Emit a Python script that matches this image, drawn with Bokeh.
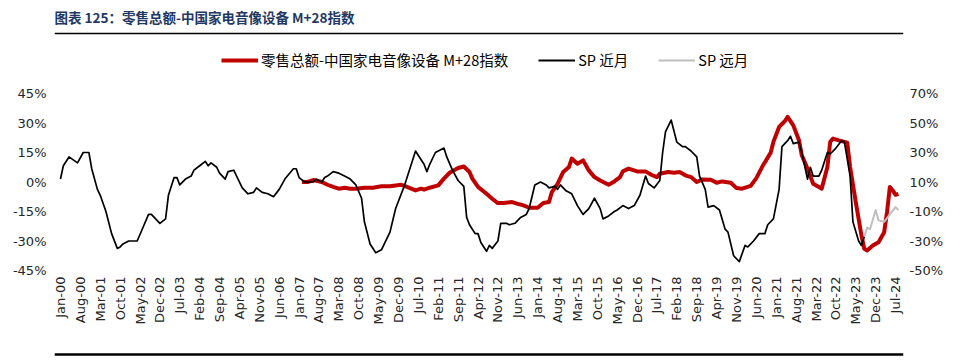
import math
from bokeh.plotting import figure
from bokeh.layouts import column
from bokeh.models import Range1d, LinearAxis, FixedTicker, Legend, LegendItem
from bokeh.core.properties import value
from bokeh.embed import file_html
from bokeh.resources import INLINE

# ---------------- data (x = months since Jan-2000) ----------------
title_text = "图表 125：零售总额-中国家电音像设备 M+28指数"
name_retail = "零售总额-中国家电音像设备 M+28指数"
name_near = "SP 近月"
name_far = "SP 远月"

x_tick_pos = list(range(0, 295, 7))
x_tick_labels = ["Jan-00", "Aug-00", "Mar-01", "Oct-01", "May-02", "Dec-02", "Jul-03",
                 "Feb-04", "Sep-04", "Apr-05", "Nov-05", "Jun-06", "Jan-07", "Aug-07",
                 "Mar-08", "Oct-08", "May-09", "Dec-09", "Jul-10", "Feb-11", "Sep-11",
                 "Apr-12", "Nov-12", "Jun-13", "Jan-14", "Aug-14", "Mar-15", "Oct-15",
                 "May-16", "Dec-16", "Jul-17", "Feb-18", "Sep-18", "Apr-19", "Nov-19",
                 "Jun-20", "Jan-21", "Aug-21", "Mar-22", "Oct-22", "May-23", "Dec-23",
                 "Jul-24"]
left_ticks = [-45, -30, -15, 0, 15, 30, 45]
right_ticks = [-50, -30, -10, 10, 30, 50, 70]

# retail index (left axis, %)
retail_month = [85, 87, 89, 92, 94, 96, 98, 100, 102, 104,
                107, 110, 113, 116, 120, 122, 125, 127, 128, 130,
                133, 135, 137, 140, 142, 144, 145, 147, 150, 152,
                154, 156, 159, 161, 163, 165, 168, 170, 172, 173,
                175, 177, 179, 180, 182, 184, 186, 188, 190, 193,
                195, 197, 198, 200, 203, 206, 208, 210, 211, 214,
                216, 218, 220, 222, 224, 226, 229, 231, 233, 236,
                238, 240, 243, 245, 247, 250, 251, 253, 255, 256,
                258, 260, 261, 263, 265, 267, 268, 270, 271, 272,
                274, 277, 278, 280, 282, 283, 284, 286, 288, 290,
                291, 292, 293, 294, 295]
retail_val = [0, 0, 1, 0, -1.4, -2.5, -3.4, -2.9, -3.4, -3.4,
              -2.9, -2.9, -2.2, -2.2, -1.4, -2.5, -4.3, -3.4, -3.9, -2.9,
              -1.7, 1.7, 4.7, 7.1, 7.9, 5.1, 1.7, -2.5, -6, -8.5,
              -10.7, -10.7, -10.2, -11.1, -11.9, -13.1, -13.1, -10.7, -10.2, -5.1,
              -0.9, 5.1, 7.6, 11.9, 9.3, 11, 5.9, 2.5, 0.8, -1.4,
              0.3, 2.5, 5.4, 6.8, 5.4, 5.4, 3.7, 2.5, 4.2, 5.1,
              4.7, 5.1, 3.4, 2.5, 0, 1.3, 1.2, -0.4, 0.3, -0.4,
              -3.1, -3.4, -2, 2, 7.6, 14.8, 20.4, 28, 30.9, 33.1,
              28.8, 21.2, 13.6, 6.8, -0.9, -2.5, -3.4, 7.6, 20.4, 22.1,
              21.2, 20, 7.6, -10.2, -27.2, -34, -34.8, -32.3, -30.6, -25.5,
              -15.3, -2.5, -4.3, -6.5, -6]

# SP near month (right axis, %)
near_month = [0, 1, 3, 6, 8, 10, 11, 13, 14, 16,
              18, 20, 21, 22, 24, 25, 27, 29, 31, 32,
              35, 37, 38, 40, 41, 42, 44, 46, 47, 49,
              51, 52, 53, 55, 56, 58, 59, 61, 62, 64,
              66, 68, 69, 71, 73, 75, 77, 79, 82, 83,
              84, 86, 89, 90, 92, 93, 94, 96, 98, 100,
              102, 104, 106, 107, 109, 111, 113, 116, 118, 121,
              123, 125, 126, 128, 129, 130, 132, 133, 135, 136,
              138, 140, 142, 143, 144, 146, 147, 148, 150, 151,
              152, 154, 155, 157, 158, 160, 162, 164, 165, 167,
              169, 171, 172, 174, 175, 176, 178, 180, 182, 184,
              186, 188, 190, 191, 193, 195, 196, 198, 200, 202,
              204, 206, 207, 209, 211, 212, 213, 215, 217, 219,
              220, 222, 224, 225, 227, 228, 230, 232, 234, 235,
              237, 239, 241, 242, 244, 246, 248, 249, 251, 253,
              254, 256, 257, 258, 260, 261, 263, 264, 265, 267,
              268, 269, 270, 271, 273, 275, 276, 278, 279, 281,
              282, 283]
near_val = [12, 21, 27, 23, 30, 30, 19, 5, 1, -10,
            -25, -35, -34, -32, -30, -30, -30, -21, -12, -12,
            -18, -15, 1, 13, 13, 8, 12, 14, 18, 21,
            24, 21, 23, 20, 16, 12, 17, 18, 14, 6,
            2, 3, 6, 3, 2, 0, 5, 12, 19, 19,
            13, 10, 10, 12, 10, 13, 14, 17, 16, 14,
            12, 8, -1, -17, -32, -38, -36, -24, -8, 7,
            19, 31, 28, 22, 17, 22, 30, 31, 33, 27,
            18, 11, 7, -14, -19, -25, -25, -31, -37, -33,
            -35, -30, -18, -18, -19, -18, -14, -12, -8, 8,
            10, 8, 6, 7, 5, 8, 4, 2, -6, -12,
            -8, -1, -8, -15, -13, -10, -9, -6, -8, -6,
            1, 14, 9, 6, 11, 30, 44, 52, 37, 34,
            34, 31, 27, 14, 5, -7, -6, -9, -22, -24,
            -40, -44, -33, -34, -30, -25, -25, -19, -15, 5,
            34, 38, 41, 36, 37, 30, 12, 20, 14, 14,
            18, 24, 30, 29, 33, 38, 37, 14, -17, -30,
            -33, -27]

# SP far month (right axis, %)
far_month = [283, 284, 285, 287, 288, 290, 292, 294, 295]
far_val = [-27, -21, -22, -9, -16, -17, -12, -7, -9]

# ---------------- styles ----------------
RED = "#C00000"
BLACK = "#000000"
GRAY = "#BFBFBF"
TITLE_COLOR = "#1F3864"
AX_FONT = "DejaVu Sans"
CJK = "Noto Sans CJK SC"
W = 946
HH = 78

# ---------------- header (title, rule, legend) ----------------
head = figure(width=W, height=HH, x_range=Range1d(0, W), y_range=Range1d(0, HH),
              x_axis_type=None, y_axis_type=None, output_backend="svg",
              toolbar_location=None, min_border=0, outline_line_color=None)
head.text(x=[0], y=[62], text=[title_text], text_font=value(CJK),
          text_font_style="bold", text_font_size="13.5px", text_color=TITLE_COLOR,
          text_baseline="middle", text_align="left")
head.line([0, W], [45, 45], line_color="black", line_width=1.3)
# legend sample renderers (kept outside the visible header range)
lr1 = head.line([-50, -40], [-50, -50], line_color=RED, line_width=4)
lr2 = head.line([-50, -40], [-50, -50], line_color=BLACK, line_width=2)
lr3 = head.line([-50, -40], [-50, -50], line_color=GRAY, line_width=2)
legend = Legend(items=[LegendItem(label=name_retail, renderers=[lr1]),
                       LegendItem(label=name_near, renderers=[lr2]),
                       LegendItem(label=name_far, renderers=[lr3])],
                location=(167, 8), orientation="horizontal",
                glyph_width=37, glyph_height=18, label_height=18,
                label_standoff=3, spacing=30, padding=0, margin=0,
                border_line_color=None, background_fill_alpha=0,
                label_text_font=CJK, label_text_font_size="14.5px",
                label_text_color="#000000")
head.add_layout(legend)

# ---------------- main chart ----------------
p = figure(width=W, height=264, x_range=Range1d(-2.107, 296.8), y_range=Range1d(-45, 45),
           output_backend="svg", toolbar_location=None,
           min_border_left=54, min_border_right=41, min_border_top=15, min_border_bottom=72,
           outline_line_color=None)
p.extra_y_ranges = {"right": Range1d(-50, 70)}
p.xgrid.visible = False
p.ygrid.visible = False

p.line(retail_month, retail_val, line_color=RED, line_width=4, line_join="round")
p.line(near_month, near_val, line_color=BLACK, line_width=1.7, line_join="round",
       y_range_name="right")
p.line(far_month, far_val, line_color=GRAY, line_width=2, line_join="round",
       y_range_name="right")

ax = p.xaxis[0]
ax.ticker = FixedTicker(ticks=x_tick_pos)
ax.major_label_overrides = {t: l for t, l in zip(x_tick_pos, x_tick_labels)}
ax.major_label_orientation = math.pi / 2
ax.major_label_standoff = 6

ly = p.yaxis[0]
ly.ticker = FixedTicker(ticks=left_ticks)
ly.major_label_overrides = {t: f"{t}%" for t in left_ticks}
ly.major_label_standoff = 8

ry = LinearAxis(y_range_name="right", ticker=FixedTicker(ticks=right_ticks))
ry.major_label_overrides = {t: f"{t}%" for t in right_ticks}
ry.major_label_standoff = 6
p.add_layout(ry, "right")

for a in [ax, ly, ry]:
    a.axis_line_color = None
    a.major_tick_line_color = None
    a.minor_tick_line_color = None
    a.major_tick_out = 0
    a.major_tick_in = 0
    a.minor_tick_out = 0
    a.minor_tick_in = 0
    a.major_label_text_font = AX_FONT
    a.major_label_text_font_size = "13px"
    a.major_label_text_color = "#262626"

# ---------------- footer rule ----------------
foot = figure(width=W, height=14, x_range=Range1d(0, W), y_range=Range1d(0, 14),
              x_axis_type=None, y_axis_type=None, output_backend="svg",
              toolbar_location=None, min_border=0, outline_line_color=None)
foot.line([0, W], [2, 2], line_color="black", line_width=2.5)

layout = column(head, p, foot, spacing=0)
open("out.html", "w").write(file_html(layout, INLINE))
